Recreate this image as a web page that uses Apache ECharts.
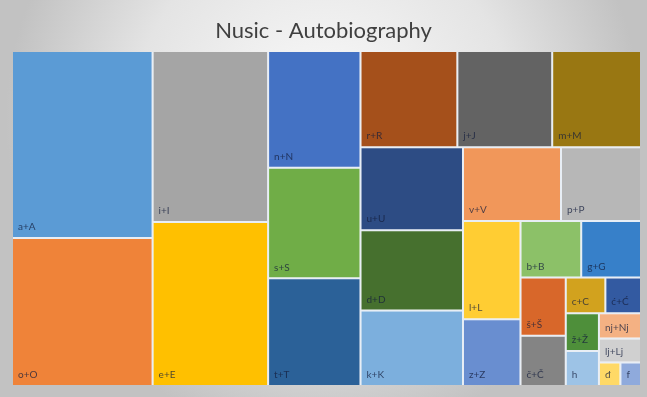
<!DOCTYPE html>
<html>
<head>
<meta charset="utf-8">
<script src="https://cdn.jsdelivr.net/npm/echarts@6/dist/echarts.min.js"></script>
<style>
  html, body { margin: 0; padding: 0; background: #ffffff; }
  #chart { width: 647px; height: 397px; }
</style>
</head>
<body>
<div id="chart"></div>
<script>
// Letter counts (lowercase + uppercase combined)
const letters = ['a+A', 'o+O', 'i+I', 'e+E', 'n+N', 's+S', 't+T', 'r+R', 'j+J', 'm+M',
                 'u+U', 'd+D', 'k+K', 'v+V', 'p+P', 'l+L', 'z+Z', 'b+B', 'g+G', 'š+Š',
                 'č+Č', 'c+C', 'ć+Ć', 'ž+Ž', 'h', 'nj+Nj', 'lj+Lj', 'đ', 'f'];
const counts = [26040, 20580, 19550, 18745, 10672, 10120, 9844, 9215, 9025, 8450,
                8420, 8160, 7650, 7154, 5840, 5600, 3800, 3400, 3350, 2610,
                2250, 1400, 1260, 1240, 1150, 1050, 1000, 500, 480];
const palette = ['#5B9BD5', '#EF8339', '#A5A5A5', '#FFC000', '#4472C4', '#70AD47', '#2B6198', '#A5501B', '#636363', '#997712',
                 '#2D4C84', '#46702E', '#7CAFDD', '#F1975A', '#B7B7B7', '#FFCD33', '#698ED0', '#8CC168', '#3780C9', '#D8672A',
                 '#848484', '#D2A21E', '#335AA1', '#4E8F3A', '#9DC3E6', '#F4B183', '#D0D0D0', '#FFD966', '#8FAADC'];

const chart = echarts.init(document.getElementById('chart'), null, { renderer: 'canvas' });

const items = letters.map((name, i) => ({
  name: name,
  value: counts[i],
  itemStyle: { color: palette[i] }
}));

chart.setOption({
  backgroundColor: {
    type: 'radial', x: 0.5, y: 0.3, r: 0.8,
    colorStops: [
      { offset: 0, color: '#fbfbfb' },
      { offset: 0.6, color: '#e4e4e4' },
      { offset: 1, color: '#c2c2c2' }
    ]
  },
  title: {
    text: 'Nusic - Autobiography',
    left: 'center',
    top: 15,
    textStyle: { fontFamily: 'Lato', fontSize: 22, fontWeight: 'normal', color: '#404040' }
  },
  series: [{
    type: 'treemap',
    left: 13, top: 52, width: 627, height: 333,
    squareRatio: 1,
    roam: false,
    nodeClick: false,
    animation: false,
    breadcrumb: { show: false },
    levels: [
      { itemStyle: { borderWidth: 0, gapWidth: 2, borderColor: '#e8eef5' } },
      { itemStyle: { borderWidth: 0 } }
    ],
    label: {
      show: true,
      position: 'insideBottomLeft',
      distance: 5,
      padding: [0, 0, 0, 0],
      fontFamily: 'Lato',
      fontSize: 10,
      color: 'rgba(20,30,60,0.75)',
      overflow: 'truncate',
      ellipsis: '…'
    },
    data: items
  }]
});
</script>
</body>
</html>
